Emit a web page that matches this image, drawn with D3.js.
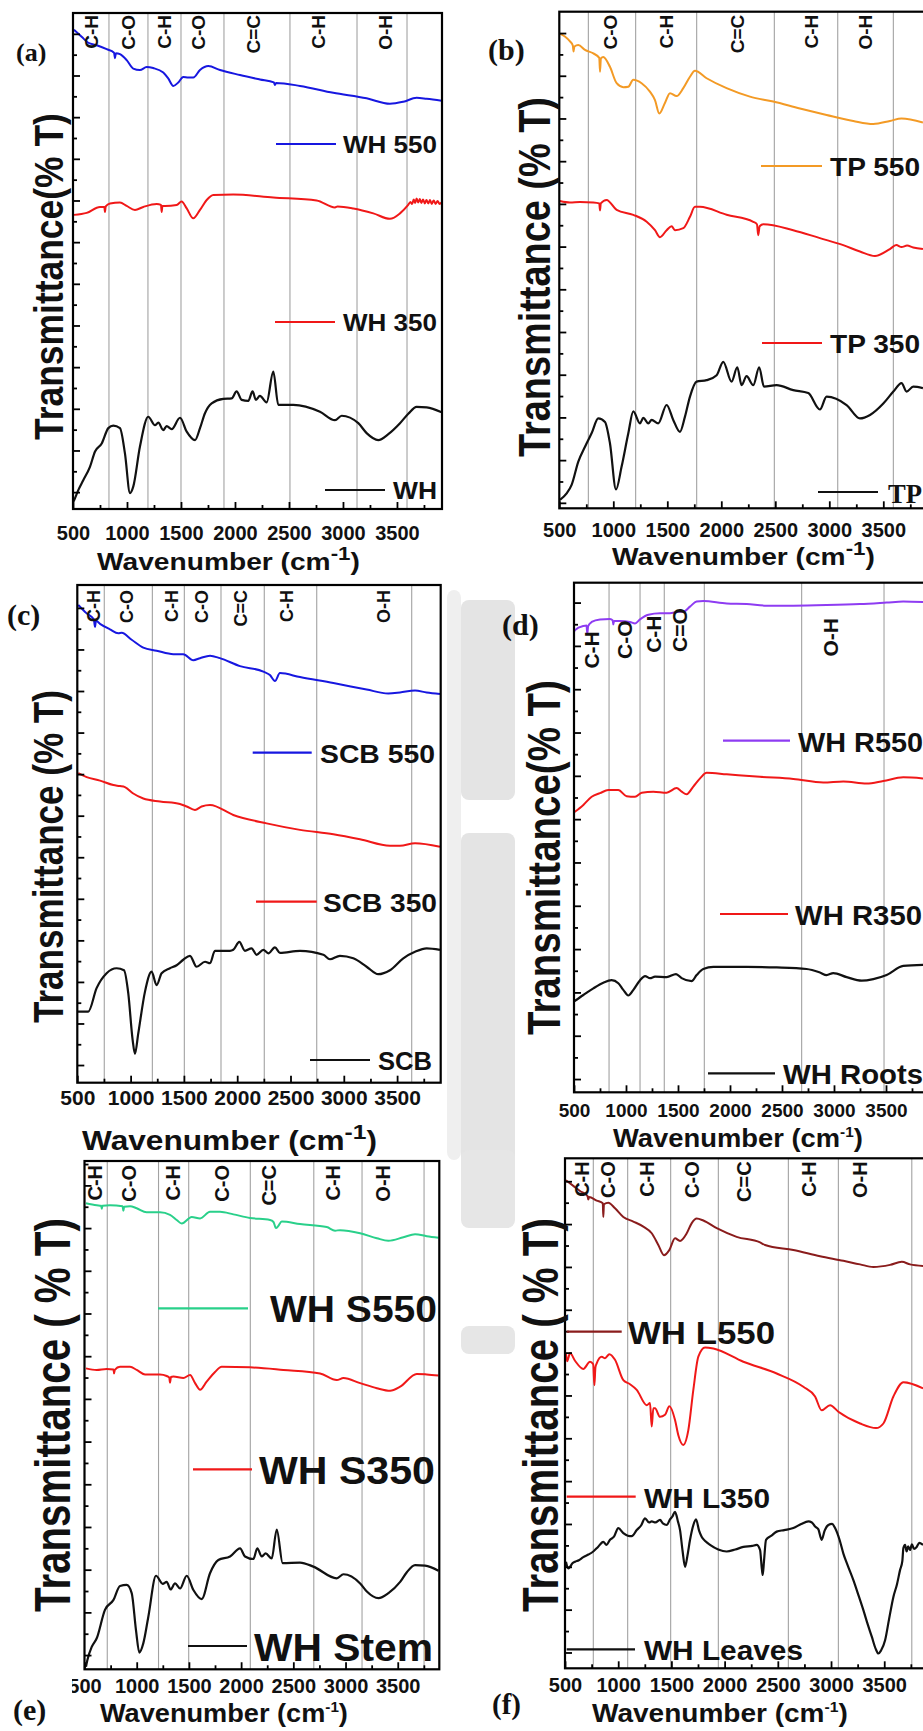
<!DOCTYPE html>
<html><head><meta charset="utf-8">
<script src="https://cdn.jsdelivr.net/npm/d3@7"></script>
<style>body{margin:0;background:#fff}svg{display:block}</style>
</head><body>
<svg id="chart" width="923" height="1731"></svg>
<script>
// ---------------- DATA (wavenumber cm-1, relative transmittance 0-100 of frame) ----------------
const xTickLabels = [500,1000,1500,2000,2500,3000,3500];

const bandsA = [833,1194,1500,1898,2509,3130,3593];
const labelsA = ["C-H","C-O","C-H","C-O","C=C","C-H","O-H"];
const labelPosA = [667,1009,1343,1657,2167,2769,3389];

const bandsB = [769,1207,1772,2491,3078,3593];
const labelsB = ["C-O","C-H","C=C","C-H","O-H"];
const labelPosB = [969,1494,2143,2837,3330];

const bandsC = [753,1204,1504,1848,2254,2746,3637];
const labelsC = ["C-H","C-O","C-H","C-O","C=C","C-H","O-H"];
const labelPosC = [650,963,1386,1667,2027,2464,3371];

const bandsD = [837,1135,1368,1753,2689,3481];
const labelsD = ["C-H","C-O","C-H","C=O","O-H"];
const labelPosD = [670,990,1262,1519,2962];
const labelLevelD = [86.8,88.8,89.9,90.7,89.3];

const bandsE = [718,1209,1498,2088,2696,3158,3752];
const labelsE = ["C-H","C-O","C-H","C-O","C=C","C-H","O-H"];
const labelPosE = [601,920,1345,1814,2261,2883,3362];

const bandsF = [766,1089,1493,1941,2599,3069,3759];
const labelsF = ["C-H","C-O","C-H","C-O","C=C","C-H","O-H"];
const labelPosF = [657,907,1268,1691,2176,2787,3273];

const WH550 = [[509,96.6],[580,95.2],[642,94.0],[719,93.5],[812,92.7],[880,92.0],[889,90.9],[897,91.9],[935,91.7],[997,90.5],[1058,88.8],[1120,88.5],[1182,89.1],[1243,88.9],[1336,88.0],[1382,86.8],[1429,85.3],[1475,86.0],[1521,87.1],[1567,87.0],[1614,87.0],[1676,88.5],[1753,89.3],[1861,88.5],[2046,87.5],[2231,86.6],[2360,86.0],[2370,85.5],[2380,85.9],[2602,85.3],[2910,83.9],[3219,82.8],[3435,81.7],[3558,82.1],[3682,82.9],[3775,82.7],[3914,82.3]];
const WH350 = [[509,59.3],[627,59.7],[750,60.9],[790,60.9],[796,59.9],[803,61.0],[843,61.6],[935,61.8],[997,61.1],[1074,60.3],[1151,60.9],[1275,61.5],[1315,61.3],[1321,59.9],[1328,61.1],[1352,61.1],[1460,61.3],[1506,62.0],[1553,60.6],[1614,58.6],[1676,60.3],[1738,62.3],[1799,63.3],[1984,63.4],[2355,62.8],[2756,62.2],[2926,60.8],[2950,61.0],[3096,60.6],[3281,59.6],[3435,58.5],[3528,59.6],[3600,61.2],[3625,61.9],[3640,61.5],[3655,62.4],[3668,61.7],[3682,62.6],[3697,61.8],[3712,62.5],[3726,61.7],[3742,62.4],[3758,61.6],[3773,62.3],[3790,61.6],[3806,62.3],[3822,61.5],[3840,62.2],[3858,61.5],[3876,62.1],[3895,61.5],[3914,61.8]];
const WH = [[505,1.5],[519,2.2],[549,3.8],[595,5.8],[657,8.5],[704,11.6],[766,13.2],[827,16.3],[873,16.8],[935,16.3],[981,11.2],[1028,3.2],[1058,4.5],[1120,12.6],[1197,18.6],[1259,16.9],[1290,17.4],[1336,15.9],[1367,16.7],[1414,16.1],[1491,18.4],[1553,15.6],[1630,13.9],[1676,16.3],[1722,19.3],[1784,21.3],[1892,22.2],[1969,22.3],[2015,23.7],[2062,22.0],[2123,21.8],[2163,23.7],[2194,22.0],[2231,22.8],[2293,21.5],[2355,27.7],[2401,21.0],[2540,21.0],[2787,19.6],[2926,17.9],[2988,18.8],[3142,17.3],[3219,15.3],[3327,13.9],[3420,15.1],[3528,17.3],[3605,19.2],[3682,20.6],[3775,20.5],[3914,19.5]];

const TP550 = [[506,95.6],[552,95.0],[599,94.0],[625,93.2],[632,92.0],[640,93.0],[676,93.3],[738,92.3],[815,91.6],[870,90.7],[877,87.9],[885,90.6],[907,90.9],[969,88.9],[1031,85.6],[1093,84.8],[1139,84.9],[1185,86.3],[1262,85.6],[1339,83.9],[1386,82.2],[1426,79.5],[1478,81.6],[1525,83.6],[1586,83.0],[1648,84.6],[1710,86.9],[1756,88.1],[1864,86.6],[2049,84.6],[2265,82.9],[2481,81.9],[2728,80.5],[2975,79.2],[3222,78.0],[3407,77.4],[3561,78.0],[3669,78.5],[3867,77.7]];
const TP350 = [[506,61.9],[599,61.6],[691,61.7],[815,61.6],[870,61.4],[877,60.0],[884,61.4],[938,62.1],[1031,60.1],[1185,59.1],[1309,57.7],[1386,56.0],[1432,54.6],[1494,56.0],[1540,56.8],[1571,56.0],[1648,56.4],[1710,58.7],[1756,60.7],[1802,60.7],[2049,59.1],[2296,57.7],[2330,57.2],[2342,55.0],[2355,56.8],[2389,57.2],[2666,56.0],[2913,54.4],[3129,53.0],[3284,51.7],[3423,50.8],[3561,52.2],[3620,53.0],[3669,52.6],[3720,52.9],[3777,52.5],[3867,52.2]];
const TP = [[506,1.7],[568,3.0],[614,4.7],[676,9.4],[738,12.4],[799,15.1],[861,18.1],[923,17.4],[969,13.1],[1025,3.8],[1077,8.4],[1139,15.1],[1185,19.5],[1247,17.1],[1278,18.2],[1324,17.1],[1355,17.8],[1416,17.1],[1494,20.8],[1555,17.8],[1617,15.4],[1663,18.4],[1710,22.5],[1771,25.5],[1864,25.8],[1957,26.8],[2018,29.5],[2095,25.5],[2148,28.4],[2188,24.8],[2234,26.6],[2296,24.8],[2351,28.4],[2395,24.5],[2512,24.8],[2666,23.8],[2805,23.2],[2913,19.9],[2975,22.5],[3160,20.8],[3284,18.1],[3377,18.8],[3500,21.1],[3593,23.5],[3669,25.2],[3716,23.5],[3777,24.5],[3867,24.2]];

const SCB550 = [[509,96.0],[588,94.3],[655,93.1],[666,91.6],[675,92.8],[713,92.2],[806,91.1],[885,90.3],[916,90.4],[1010,89.0],[1119,87.4],[1244,86.8],[1401,86.1],[1494,86.1],[1588,84.9],[1651,85.3],[1745,85.8],[1838,85.3],[2026,83.7],[2245,82.6],[2307,81.9],[2354,80.7],[2401,82.3],[2589,81.5],[2902,80.3],[3214,79.0],[3417,78.2],[3527,78.4],[3668,78.8],[3777,78.4],[3902,78.1]];
const SCB350 = [[509,62.2],[588,61.4],[713,60.7],[838,59.8],[900,59.6],[947,59.4],[1025,58.1],[1119,57.1],[1276,56.5],[1463,56.0],[1526,55.5],[1604,54.8],[1666,55.5],[1745,55.8],[1963,53.8],[2276,52.1],[2589,50.8],[2902,49.9],[3152,48.9],[3433,47.6],[3527,47.6],[3668,48.1],[3902,47.4]];
const SCB = [[503,14.3],[525,14.3],[603,14.3],[681,19.0],[775,22.0],[869,23.0],[938,22.6],[978,18.0],[1019,8.6],[1041,5.8],[1072,9.9],[1135,18.3],[1197,22.3],[1244,19.6],[1291,22.0],[1369,23.0],[1432,23.6],[1494,24.7],[1557,25.5],[1619,23.3],[1698,24.3],[1745,24.0],[1791,26.5],[1932,26.5],[1963,26.7],[2020,28.3],[2073,26.5],[2135,27.0],[2182,25.7],[2245,26.7],[2292,26.0],[2354,27.2],[2401,26.1],[2589,26.5],[2808,25.7],[2870,24.8],[2964,25.5],[3089,25.0],[3214,23.3],[3323,21.8],[3433,22.6],[3558,25.0],[3668,26.3],[3777,27.0],[3902,26.7]];

const WHR550 = [[505,90.5],[510,90.7],[590,91.5],[620,91.6],[628,90.0],[636,91.5],[670,92.3],[750,92.8],[846,92.9],[872,92.6],[878,91.8],[885,92.5],[942,92.5],[1038,92.3],[1087,92.0],[1135,92.8],[1215,93.7],[1327,94.0],[1423,94.0],[1503,94.3],[1551,94.3],[1615,95.3],[1679,96.3],[1744,96.4],[1968,95.9],[2160,95.8],[2353,95.5],[2609,95.5],[2929,95.6],[3250,95.8],[3506,96.1],[3666,96.3],[3856,96.2]];
const WHR350 = [[505,55.0],[590,56.4],[670,58.0],[750,58.7],[830,59.3],[926,59.3],[1006,58.1],[1087,58.0],[1151,58.8],[1263,59.0],[1391,58.8],[1487,59.7],[1535,59.0],[1583,58.5],[1647,60.0],[1712,61.6],[1776,62.7],[1968,62.4],[2288,61.9],[2609,61.5],[2897,60.8],[3090,61.0],[3314,60.6],[3474,61.1],[3666,61.8],[3856,61.6]];
const WHRoots = [[505,17.9],[590,19.1],[686,20.4],[782,21.5],[862,22.0],[926,21.4],[974,20.1],[1022,19.0],[1071,20.1],[1135,22.0],[1183,22.8],[1231,22.4],[1279,22.7],[1391,22.6],[1481,23.2],[1535,22.4],[1631,21.8],[1679,23.0],[1743,24.2],[1840,24.6],[2160,24.6],[2449,24.5],[2737,24.2],[2865,23.5],[2929,23.0],[2993,23.4],[3122,22.6],[3266,21.9],[3378,22.2],[3506,23.0],[3666,24.8],[3856,25.0]];

const WHS550 = [[514,91.7],[617,91.3],[660,91.2],[665,90.6],[672,91.2],[744,91.3],[865,91.1],[872,90.2],[880,91.0],[936,91.1],[1000,90.7],[1095,89.9],[1223,89.9],[1319,89.4],[1383,88.4],[1431,87.7],[1527,89.0],[1607,88.7],[1702,90.0],[1798,90.0],[1926,89.5],[2085,88.8],[2277,88.4],[2310,88.0],[2334,86.8],[2355,87.2],[2389,88.1],[2564,87.6],[2820,87.0],[2900,86.3],[2948,86.4],[3140,85.8],[3300,84.8],[3410,84.3],[3554,85.0],[3666,85.6],[3778,85.2],[3890,84.9]];
const WHS350 = [[514,59.2],[617,58.9],[712,59.1],[778,59.0],[783,58.2],[790,58.9],[840,59.5],[936,59.5],[1000,58.9],[1080,58.0],[1223,58.0],[1287,57.7],[1312,57.4],[1319,56.4],[1328,57.5],[1351,57.6],[1447,57.3],[1511,57.9],[1559,56.3],[1607,55.0],[1670,56.6],[1750,58.5],[1814,59.5],[2085,59.4],[2405,58.9],[2756,58.2],[2916,56.9],[2980,57.3],[3140,56.3],[3300,55.3],[3427,54.8],[3523,55.6],[3682,58.1],[3778,58.0],[3890,57.8]];
const WHStem = [[514,0.5],[527,1.8],[569,4.4],[617,6.1],[696,11.7],[776,13.6],[840,16.4],[904,16.6],[952,15.0],[993,7.7],[1025,3.3],[1063,5.1],[1111,10.3],[1185,18.4],[1249,16.8],[1287,17.2],[1325,15.7],[1367,16.9],[1415,15.9],[1479,18.4],[1543,15.6],[1622,13.8],[1702,18.9],[1782,21.5],[1894,22.2],[1990,23.8],[2037,22.2],[2117,21.7],[2155,23.8],[2197,22.2],[2235,22.8],[2293,21.8],[2341,27.5],[2398,20.9],[2564,21.0],[2692,20.2],[2916,17.9],[2980,18.7],[3140,16.9],[3204,15.3],[3315,14.0],[3411,15.0],[3523,17.2],[3587,19.1],[3666,20.5],[3762,20.4],[3890,19.4]];

const WHL550 = [[509,95.7],[578,94.6],[641,93.6],[712,92.6],[719,91.9],[726,92.4],[798,91.7],[855,91.2],[860,88.5],[866,91.0],[907,91.3],[970,90.2],[1048,88.5],[1142,87.6],[1236,86.6],[1315,85.3],[1377,83.0],[1430,81.0],[1480,82.0],[1534,84.3],[1581,83.8],[1644,85.3],[1691,87.3],[1738,88.2],[1800,87.8],[1926,86.3],[2113,84.6],[2333,83.5],[2380,83.0],[2646,82.0],[2897,80.8],[3116,79.9],[3273,79.2],[3398,78.7],[3555,79.1],[3665,79.7],[3743,79.2],[3865,78.9]];
const WHL350 = [[509,61.8],[520,60.2],[531,60.8],[547,61.8],[594,60.3],[672,58.7],[735,60.1],[765,59.6],[776,55.5],[786,59.0],[798,59.8],[845,61.1],[876,60.8],[917,61.6],[970,60.5],[1048,56.5],[1111,55.7],[1174,54.6],[1268,51.6],[1299,52.0],[1315,47.4],[1330,51.0],[1346,51.0],[1393,49.3],[1440,49.7],[1481,51.4],[1534,48.7],[1565,45.7],[1612,43.8],[1659,46.7],[1706,54.6],[1753,61.1],[1816,62.9],[1894,62.7],[2176,60.1],[2489,57.8],[2740,55.2],[2850,53.3],[2912,50.6],[2991,51.6],[3069,50.3],[3273,48.0],[3423,47.1],[3492,48.0],[3586,53.3],[3680,56.1],[3865,54.9]];
const WHLeaves = [[509,20.9],[530,19.6],[547,19.9],[570,20.6],[594,20.9],[630,21.2],[672,21.8],[720,22.3],[766,22.9],[810,23.8],[860,24.8],[890,24.2],[923,25.2],[960,25.8],[1001,27.5],[1048,26.5],[1090,26.0],[1127,25.9],[1174,27.1],[1215,28.0],[1252,29.4],[1290,28.6],[1315,28.8],[1350,28.6],[1393,29.1],[1420,28.4],[1456,28.1],[1487,29.2],[1510,29.8],[1534,30.7],[1560,28.9],[1581,27.1],[1605,23.0],[1628,19.9],[1650,22.0],[1675,25.2],[1705,28.0],[1731,29.2],[1760,27.0],[1784,25.8],[1820,24.9],[1863,24.2],[1940,23.3],[2019,22.9],[2100,23.3],[2176,23.8],[2260,24.0],[2301,24.2],[2333,23.2],[2350,19.5],[2358,18.3],[2370,21.0],[2389,25.2],[2440,26.0],[2489,26.8],[2560,27.1],[2646,27.5],[2720,28.3],[2787,28.8],[2820,28.6],[2850,27.8],[2880,27.3],[2912,25.2],[2940,27.0],[2975,28.1],[3010,28.3],[3038,27.5],[3080,25.2],[3116,22.5],[3160,20.0],[3210,17.3],[3260,14.2],[3304,11.4],[3345,8.6],[3383,6.2],[3420,3.8],[3445,2.9],[3470,3.5],[3508,5.5],[3545,9.6],[3586,14.0],[3620,16.5],[3649,19.3],[3670,21.0],[3680,23.6],[3696,24.2],[3710,22.9],[3725,23.9],[3743,23.2],[3760,24.3],[3780,23.4],[3805,23.8],[3830,24.6],[3865,24.2]];

// ---------------- STYLE / LAYOUT ----------------
const SANS = "'Liberation Sans', Arial, Helvetica, sans-serif";
const SERIF = "'Liberation Serif', 'Times New Roman', serif";
const C = {blue:"#1717e0", red:"#f01818", orange:"#f39a25", purple:"#8e3cf2", green:"#29d08a", darkred:"#8a1c1c", black:"#111111"};

const panels = [
 {id:"a", left:73, right:442, top:13, bottom:509, xmax:3917, tStart:3.4, tStep:4.2,
  bands:bandsA, labels:labelsA, labelPos:labelPosA, labelFs:19, labelOff:2,
  series:[
   {data:WH550, color:C.blue, name:"WH 550", leg:[276,336,144,343,437,23]},
   {data:WH350, color:C.red, name:"WH 350", leg:[275,335,322,343,437,23]},
   {data:WH, color:C.black, name:"WH", leg:[325,385,490,393,437,23]}],
  ytitle:{text:"Transmittance(% T)", x:63, y0:440, y1:113, fs:41},
  xtitle:{x0:97, x1:360, y:570, fs:24, supFs:19, raise:10},
  tickY:540, tickFs:20, tag:{text:"(a)", x:16, y:61, fs:26}},
 {id:"b", left:559.3, right:926.5, top:11.7, bottom:508.3, xmax:3900, tStart:1.1, tStep:4.3,
  bands:bandsB, labels:labelsB, labelPos:labelPosB, labelFs:19, labelOff:3,
  series:[
   {data:TP550, color:C.orange, name:"TP 550", leg:[761,822,166,830,920,25]},
   {data:TP350, color:C.red, name:"TP 350", leg:[762,822,343,830,920,25]},
   {data:TP, color:C.black, name:"TP", leg:[818,878,492,888,922,28], serif:true}],
  ytitle:{text:"Transmittance (% T)", x:550, y0:457, y1:97, fs:44},
  xtitle:{x0:612, x1:875, y:565, fs:24, supFs:19, raise:10},
  tickY:537, tickFs:20, tag:{text:"(b)", x:488, y:60, fs:30}},
 {id:"c", left:77.3, right:440.7, top:585, bottom:1082.7, xmax:3909, tStart:3.55, tStep:4.175,
  bands:bandsC, labels:labelsC, labelPos:labelPosC, labelFs:18, labelOff:5,
  series:[
   {data:SCB550, color:C.blue, name:"SCB 550", leg:[252.7,311.7,752.7,320,435,25]},
   {data:SCB350, color:C.red, name:"SCB 350", leg:[256,316.7,901.7,323,437,25]},
   {data:SCB, color:C.black, name:"SCB", leg:[310,370,1060,378,432,25]}],
  ytitle:{text:"Transmittance (% T)", x:63, y0:1023, y1:690, fs:43},
  xtitle:{x0:82, x1:377, y:1150, fs:27, supFs:21, raise:11},
  tickY:1105, tickFs:21, tag:{text:"(c)", x:7, y:625, fs:30}},
 {id:"d", left:574, right:927.6, top:582.7, bottom:1092.3, xmax:3900, tStart:2.6, tStep:4.25,
  bands:bandsD, labels:labelsD, labelPos:labelPosD, labelLevel:labelLevelD, labelFs:21,
  series:[
   {data:WHR550, color:C.purple, name:"WH R550", leg:[723,790,740.7,798,923,28]},
   {data:WHR350, color:C.red, name:"WH R350", leg:[720,788,914,795,922,28]},
   {data:WHRoots, color:C.black, name:"WH Roots", leg:[708,775,1073.3,783,923,28]}],
  ytitle:{text:"Transmittance(% T)", x:560, y0:1035, y1:680, fs:47},
  xtitle:{x0:613, x1:863, y:1147, fs:25, supFs:14, raise:10},
  tickY:1117, tickFs:19, tag:{text:"(d)", x:502, y:635, fs:30}},
 {id:"e", left:84.5, right:439.3, top:1161, bottom:1669.3, xmax:3898, tStart:2.8, tStep:4.2,
  bands:bandsE, labels:labelsE, labelPos:labelPosE, labelFs:20, labelOff:4,
  series:[
   {data:WHS550, color:C.green, name:"WH S550", leg:[158,248,1308.3,270,437,36]},
   {data:WHS350, color:C.red, name:"WH S350", leg:[193,252,1469.3,259,435,38]},
   {data:WHStem, color:C.black, name:"WH Stem", leg:[188,247,1646,254,433,38]}],
  ytitle:{text:"Transmittance ( % T)", x:70, y0:1612, y1:1218, fs:50},
  xtitle:{x0:100, x1:348, y:1722, fs:25, supFs:14, raise:10},
  tickY:1693, tickFs:20, tag:{text:"(e)", x:13, y:1720, fs:30}, clipLeft:72},
 {id:"f", left:565, right:926.8, top:1158.3, bottom:1668.3, xmax:3900, tStart:3.1, tStep:4.2,
  bands:bandsF, labels:labelsF, labelPos:labelPosF, labelFs:20, labelOff:3,
  series:[
   {data:WHL550, color:C.darkred, name:"WH L550", leg:[566.7,621.7,1331.7,628,775,31]},
   {data:WHL350, color:C.red, name:"WH L350", leg:[566.7,635.7,1496.7,644,770,28]},
   {data:WHLeaves, color:C.black, name:"WH Leaves", leg:[566.7,635,1649.3,644,803,28]}],
  ytitle:{text:"Transmittance ( % T)", x:558, y0:1612, y1:1218, fs:50},
  xtitle:{x0:592, x1:848, y:1722, fs:25, supFs:14, raise:10},
  tickY:1692, tickFs:20, tag:{text:"(f)", x:492, y:1714, fs:29}}
];

const svg = d3.select("#chart");
const defs = svg.append("defs");

// faint background blocks seen behind the figure
const bg = svg.append("g");
[[447,590,14,570,"#efefef"],[461,600,54,200,"#e4e4e4"],[461,833,54,332,"#e4e4e4"],[461,1150,54,78,"#e6e6e6"],[461,1326,54,28,"#e6e6e6"]].forEach(r=>
  bg.append("rect").attr("x",r[0]).attr("y",r[1]).attr("width",r[2]).attr("height",r[3]).attr("rx",8).attr("fill",r[4]));

panels.forEach(p => {
  const g = svg.append("g").attr("class","panel-"+p.id);
  const x = d3.scaleLinear().domain([500, p.xmax]).range([p.left, p.right]);
  const y = d3.scaleLinear().domain([0, 100]).range([p.bottom, p.top]);
  const clipId = "clip-" + p.id;
  defs.append("clipPath").attr("id", clipId).append("rect")
    .attr("x", p.left).attr("y", p.top).attr("width", p.right - p.left).attr("height", p.bottom - p.top);

  g.append("rect").attr("x", p.left).attr("y", p.top).attr("width", p.right - p.left).attr("height", p.bottom - p.top).attr("fill", "#fff");

  // band marker lines
  g.append("g").selectAll("line").data(p.bands).join("line")
    .attr("x1", d => x(d)).attr("x2", d => x(d)).attr("y1", p.top).attr("y2", p.bottom)
    .attr("stroke", "#a2a2a2").attr("stroke-width", 1.1);

  // spectra
  const line = d3.line().x(d => x(d[0])).y(d => y(d[1])).curve(d3.curveMonotoneX);
  p.series.forEach(s => {
    g.append("path").attr("d", line(s.data)).attr("fill", "none")
      .attr("stroke", s.color).attr("stroke-width", s.color === C.black ? 2.2 : 2)
      .attr("stroke-linejoin", "round").attr("clip-path", `url(#${clipId})`);
  });

  // x axis (inward ticks)
  const majors = xTickLabels.filter(v => v <= p.xmax);
  const minors = d3.range(750, p.xmax, 500);
  const axWrap = g.append("g");
  const axG = axWrap.append("g").attr("transform", `translate(0,${p.bottom})`);
  axG.call(d3.axisBottom(x).tickValues(majors).tickSize(-7).tickSizeOuter(0).tickFormat(d3.format("d")));
  const axM = g.append("g").attr("transform", `translate(0,${p.bottom})`);
  axM.call(d3.axisBottom(x).tickValues(minors).tickSize(-4).tickSizeOuter(0).tickFormat(""));
  [axG, axM].forEach(a => { a.select(".domain").remove(); a.selectAll("line").attr("stroke", "#000").attr("stroke-width", 1.8); });
  axG.selectAll("text").attr("y", p.tickY - p.bottom).attr("dy", 0)
    .attr("font-family", SANS).attr("font-weight", "bold").attr("font-size", p.tickFs).attr("fill", "#111");
  if (p.clipLeft) {
    defs.append("clipPath").attr("id", "tl-" + p.id).append("rect")
      .attr("x", p.clipLeft).attr("y", p.bottom - 20).attr("width", 500).attr("height", 80);
    axWrap.attr("clip-path", `url(#tl-${p.id})`);
  }

  // y axis (inward ticks, no labels)
  const yt = d3.range(p.tStart, 99.5, p.tStep);
  const yMaj = yt.filter((d, i) => i % 2 === 0), yMin = yt.filter((d, i) => i % 2 === 1);
  [[yMaj, 7], [yMin, 4]].forEach(([vals, len]) => {
    const a = g.append("g").attr("transform", `translate(${p.left},0)`)
      .call(d3.axisLeft(y).tickValues(vals).tickSize(-len).tickSizeOuter(0).tickFormat(""));
    a.select(".domain").remove();
    a.selectAll("line").attr("stroke", "#000").attr("stroke-width", 1.8);
  });

  // frame
  g.append("rect").attr("x", p.left).attr("y", p.top).attr("width", p.right - p.left).attr("height", p.bottom - p.top)
    .attr("fill", "none").attr("stroke", "#000").attr("stroke-width", 2.2);

  // band labels (vertical)
  const capH = 0.716 * p.labelFs;
  g.append("g").selectAll("text").data(p.labels).join("text")
    .attr("font-family", SANS).attr("font-weight", "bold").attr("font-size", p.labelFs).attr("fill", "#111")
    .attr("text-anchor", p.labelLevel ? "middle" : "end")
    .attr("transform", (d, i) => {
      const tx = x(p.labelPos[i]) + capH / 2;
      const ty = p.labelLevel ? y(p.labelLevel[i]) : p.top + p.labelOff;
      return `translate(${tx},${ty}) rotate(-90)`;
    })
    .text(d => d);

  // legend
  p.series.forEach(s => {
    const [x0, x1, ly, tx0, tx1, fs] = s.leg;
    g.append("line").attr("x1", x0).attr("x2", x1).attr("y1", ly).attr("y2", ly)
      .attr("stroke", s.color).attr("stroke-width", 2.2);
    g.append("text").attr("x", tx0).attr("y", ly + 0.358 * fs + 1)
      .attr("font-family", s.serif ? SERIF : SANS).attr("font-weight", "bold").attr("font-size", fs).attr("fill", "#111")
      .attr("textLength", tx1 - tx0).attr("lengthAdjust", "spacingAndGlyphs").text(s.name);
  });

  // y title
  const yt1 = svg.append("text").attr("font-family", SANS).attr("font-weight", "bold")
    .attr("font-size", p.ytitle.fs).attr("fill", "#111").text(p.ytitle.text);
  const wlen = yt1.node().getComputedTextLength();
  yt1.attr("transform", `translate(${p.ytitle.x},${p.ytitle.y0}) rotate(-90) scale(${(p.ytitle.y0 - p.ytitle.y1) / wlen},1)`);

  // x title
  const xt = p.xtitle;
  const t = svg.append("text").attr("font-family", SANS).attr("font-weight", "bold").attr("font-size", xt.fs).attr("fill", "#111");
  t.append("tspan").text("Wavenumber (cm");
  t.append("tspan").attr("font-size", xt.supFs).attr("dy", -xt.raise).text("-1");
  t.append("tspan").attr("dy", xt.raise).text(")");
  const bb = t.node().getBBox();
  t.attr("transform", `translate(${xt.x0},${xt.y}) scale(${(xt.x1 - xt.x0) / bb.width},1) translate(${-bb.x},0)`);

  // panel tag
  svg.append("text").attr("x", p.tag.x).attr("y", p.tag.y).attr("font-family", SERIF).attr("font-weight", "bold")
    .attr("font-size", p.tag.fs).attr("fill", "#111").text(p.tag.text);
});
</script>
</body></html>
